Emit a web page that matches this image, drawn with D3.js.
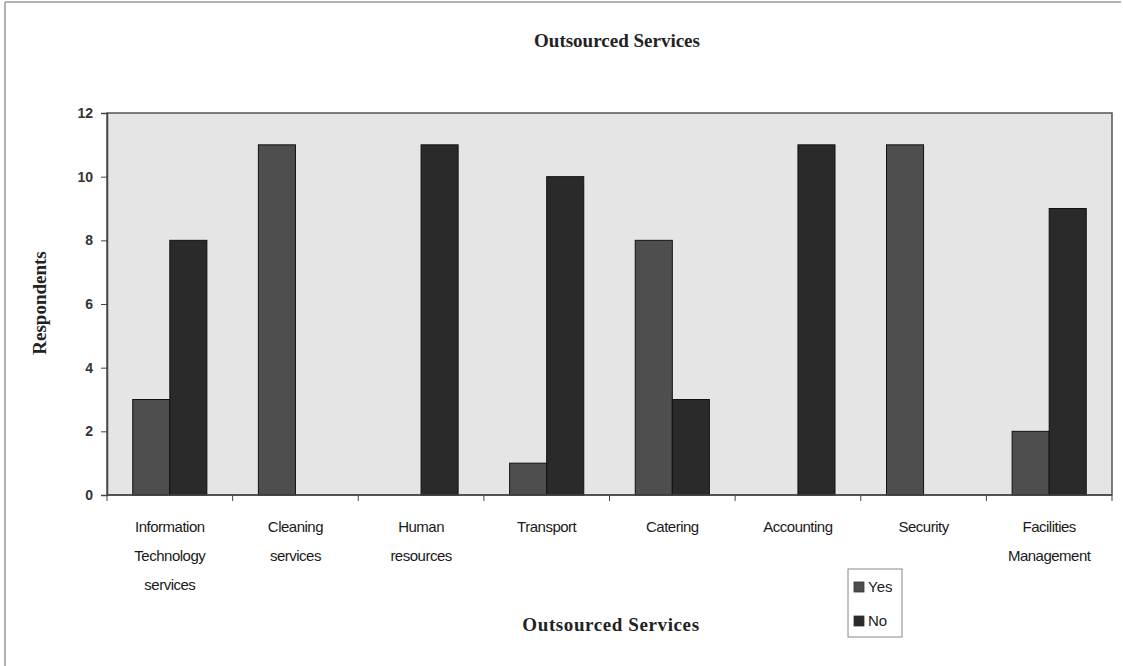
<!DOCTYPE html>
<html><head><meta charset="utf-8">
<script src="https://cdn.jsdelivr.net/npm/d3@7"></script>
<style>body{margin:0;background:#fff;}svg{display:block;}</style>
</head><body>
<svg id="chart" width="1123" height="666"></svg>
<script>
const categories = [
  ["Information","Technology","services"],
  ["Cleaning","services"],
  ["Human","resources"],
  ["Transport"],
  ["Catering"],
  ["Accounting"],
  ["Security"],
  ["Facilities","Management"]
];
const seriesNames = ["Yes","No"];
const yesValues = [3,11,0,1,8,0,11,2];
const noValues  = [8,0,11,10,3,11,0,9];
const yTicks = [0,2,4,6,8,10,12];
const title = "Outsourced Services";
const xTitle = "Outsourced Services";
const yTitle = "Respondents";

const colors = {Yes:"#4e4e4e", No:"#2a2a2a"};
const svg = d3.select("#chart");
const m = {left:107, right:1112, top:113, bottom:495};

// outer frame (left & top)
svg.append("line").attr("x1",5).attr("x2",5).attr("y1",2).attr("y2",666).attr("stroke","#999").attr("stroke-width",1.5);
svg.append("line").attr("x1",5).attr("x2",1121).attr("y1",2).attr("y2",2).attr("stroke","#999").attr("stroke-width",1.5);

const idx = d3.range(categories.length);
const x0 = d3.scaleBand().domain(idx).range([m.left,m.right]).paddingInner(0.41).paddingOuter(0.205);
const x1 = d3.scaleBand().domain(seriesNames).range([0,x0.bandwidth()]);
const y = d3.scaleLinear().domain([0,12]).range([m.bottom,m.top]);

// plot background
svg.append("rect").attr("x",m.left).attr("y",m.top).attr("width",m.right-m.left).attr("height",m.bottom-m.top)
  .attr("fill","#e5e5e5").attr("stroke","#555").attr("stroke-width",1.5);

// bars
const data = idx.map(i=>({i, Yes:yesValues[i], No:noValues[i]}));
const g = svg.append("g");
data.forEach(d=>{
  seriesNames.forEach(s=>{
    if (d[s] <= 0) return;
    g.append("rect")
      .attr("x", x0(d.i)+x1(s))
      .attr("y", y(d[s]))
      .attr("width", x1.bandwidth())
      .attr("height", y(0)-y(d[s]))
      .attr("fill", colors[s]).attr("stroke","#111").attr("stroke-width",1);
  });
});

// y axis
const yAxis = d3.axisLeft(y).tickValues(yTicks).tickSize(6).tickPadding(8).tickFormat(d3.format("d"));
const ya = svg.append("g").attr("transform",`translate(${m.left},0)`).call(yAxis);
ya.select(".domain").attr("stroke","#444").attr("stroke-width",1.5);
ya.selectAll(".tick line").attr("stroke","#444");
ya.selectAll("text").attr("font-family","Liberation Sans, Arial, sans-serif").attr("font-size",14).attr("font-weight","bold").attr("fill","#333");

// x axis: ticks at category boundaries
const boundaries = d3.range(categories.length+1).map(i=> i<categories.length ? x0(i)-x0.step()*x0.paddingOuter() : m.right);
svg.append("line").attr("x1",m.left).attr("x2",m.right).attr("y1",m.bottom).attr("y2",m.bottom).attr("stroke","#444").attr("stroke-width",1.5);
boundaries.forEach(b=>{
  svg.append("line").attr("x1",b).attr("x2",b).attr("y1",m.bottom).attr("y2",m.bottom+6).attr("stroke","#444");
});
categories.forEach((lines,i)=>{
  const cx = x0(i)+x0.bandwidth()/2;
  const t = svg.append("text").attr("text-anchor","middle")
    .attr("font-family","Liberation Sans, Arial, sans-serif").attr("font-size",15).attr("letter-spacing","-0.5")
    .attr("fill","#1a1a1a");
  lines.forEach((ln,j)=>{
    t.append("tspan").attr("x",cx).attr("y",532+j*29).text(ln);
  });
});

// titles
svg.append("text").attr("x",617).attr("y",47).attr("text-anchor","middle")
  .attr("font-family","Liberation Serif, serif").attr("font-weight","bold").attr("font-size",19).attr("fill","#222").text(title);
svg.append("text").attr("x",611).attr("y",631).attr("text-anchor","middle")
  .attr("font-family","Liberation Serif, serif").attr("font-weight","bold").attr("font-size",19).attr("fill","#222").attr("letter-spacing","0.6").text(xTitle);
svg.append("text").attr("transform","translate(46,303) rotate(-90)").attr("text-anchor","middle")
  .attr("font-family","Liberation Serif, serif").attr("font-weight","bold").attr("font-size",19).attr("fill","#222").text(yTitle);

// legend
const lg = svg.append("g");
lg.append("rect").attr("x",848).attr("y",569).attr("width",54).attr("height",68).attr("fill","#fff").attr("stroke","#888");
seriesNames.forEach((s,j)=>{
  const yy = 587 + j*34;
  lg.append("rect").attr("x",854).attr("y",yy-5).attr("width",10).attr("height",10).attr("fill",colors[s]).attr("stroke","#333").attr("stroke-width",0.8);
  lg.append("text").attr("x",868).attr("y",yy+5).attr("font-family","Liberation Sans, Arial, sans-serif").attr("font-size",15).attr("fill","#222").text(s);
});
</script>
</body></html>
